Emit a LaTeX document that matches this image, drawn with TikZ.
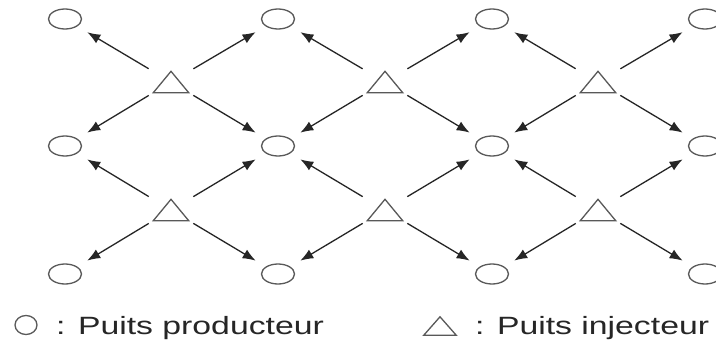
\documentclass[tikz,border=0pt]{standalone}
\usepackage{fontspec}
\setmainfont{Liberation Sans}
\newfontfamily\legendfont[FakeStretch=1.35]{Liberation Sans}
\usetikzlibrary{arrows.meta,shapes.geometric}
\begin{document}
\begin{tikzpicture}[x=1pt,y=-1pt,
  prod/.style={ellipse,draw=black!65,line width=1.3pt,minimum width=33pt,minimum height=20pt,inner sep=0pt},
  inj/.style={rectangle,minimum width=35pt,minimum height=21pt,inner sep=0pt},
  tri/.style={draw=black!65,line width=1.3pt,line join=miter},
  flow/.style={draw=black!85,line width=1.3pt,-{Latex[length=13pt,width=10pt]},shorten <=26pt,shorten >=26pt},
  legend/.style={anchor=base west,inner sep=0pt,font=\legendfont\fontsize{25}{30}\selectfont,text=black!85}
]
\useasboundingbox (0,0) rectangle (716,340);
\fill[white] (0,0) rectangle (716,340);
\foreach \c/\x in {1/65,2/278,3/492,4/705}{
  \foreach \r/\y in {1/19,2/146,3/274}{
    \node[prod] (c\c\r) at (\x,\y) {};
  }
}
\foreach \c/\x in {1/171,2/385,3/598}{
  \foreach \r/\y in {1/82,2/210}{
    \node[inj] (t\c\r) at (\x,\y) {};
    \draw[tri] (t\c\r.south west) -- (t\c\r.north) -- (t\c\r.south east) -- cycle;
  }
}
\foreach \c [evaluate=\c as \cn using int(\c+1)] in {1,2,3}{
  \foreach \r [evaluate=\r as \rn using int(\r+1)] in {1,2}{
    \draw[flow] (t\c\r.center) -- (c\c\r.center);
    \draw[flow] (t\c\r.center) -- (c\cn\r.center);
    \draw[flow] (t\c\r.center) -- (c\c\rn.center);
    \draw[flow] (t\c\r.center) -- (c\cn\rn.center);
  }
}
% legend
\node[prod,minimum width=22pt,minimum height=19pt] (lc) at (26,325) {};
\node[legend] (lt1) at (56,334) {: Puits producteur};
\node[inj,minimum width=32pt,minimum height=18pt] (ltri) at (440,326) {};
\draw[tri] (ltri.south west) -- (ltri.north) -- (ltri.south east) -- cycle;
\node[legend] (lt2) at (475,334) {: Puits injecteur};
\end{tikzpicture}
\end{document}
